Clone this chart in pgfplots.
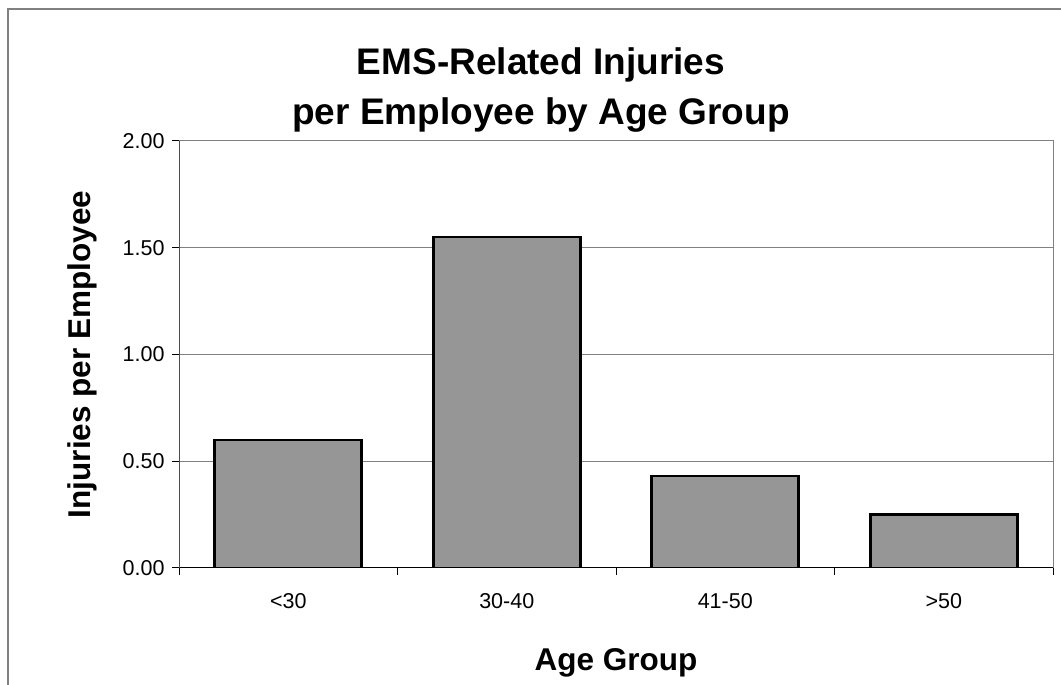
\documentclass[border=0pt]{standalone}
\usepackage{pgfplots}
\pgfplotsset{compat=1.18}
\usepackage{fontspec}
\setmainfont{Liberation Sans}
\definecolor{barfill}{HTML}{969696}
\definecolor{framegray}{HTML}{808080}
\begin{document}
\begin{tikzpicture}[x=1pt,y=1pt]
\useasboundingbox (0,0) rectangle (1061,685);
\draw[framegray, line width=1.5pt] (8,0) -- (8,676) -- (1061,676);
\node[anchor=base, font=\fontsize{37}{42}\selectfont\bfseries] at (541,610) {EMS-Related Injuries};
\node[anchor=base, font=\fontsize{37}{42}\selectfont\bfseries] at (541,560) {per Employee by Age Group};
\begin{axis}[
  at={(179pt,117pt)}, anchor=south west,
  scale only axis, width=874pt, height=427pt,
  ybar, bar width=147pt,
  xmin=0.5, xmax=4.5, ymin=0, ymax=2,
  axis line style={framegray, line width=1pt},
  ymajorgrids, grid style={framegray, line width=1pt},
  tick align=outside, major tick length=7pt,
  xtick pos=bottom, ytick pos=left,
  tick style={black, line width=1pt},
  xtick={0.5,1.5,2.5,3.5,4.5}, xticklabels={},
  extra x ticks={1,2,3,4},
  extra x tick labels={<30,30-40,41-50,>50},
  extra x tick style={major tick length=0pt, grid=none},
  ytick={0,0.5,1,1.5,2},
  yticklabel={\pgfmathprintnumber[fixed, fixed zerofill, precision=2]{\tick}},
  /pgf/number format/assume math mode=true,
  ticklabel style={font=\fontsize{21.5}{24}\selectfont},
  xticklabel style={yshift=-22pt},
  yticklabel style={xshift=-4pt},
  xlabel={Age Group}, ylabel={Injuries per Employee},
  label style={font=\fontsize{31.5}{36}\selectfont\bfseries},
  xlabel style={at={(axis description cs:0.5,-0.2389)}, anchor=base},
  ylabel style={at={(axis description cs:-0.111,0.5)}, anchor=center},
]
\addplot[fill=barfill, draw=black, line width=2.6pt] coordinates {(1,0.60) (2,1.55) (3,0.43) (4,0.25)};
\draw[black, line width=1pt] (rel axis cs:0,0) -- (rel axis cs:1,0);
\draw[black!70, line width=1pt] (rel axis cs:0,0) -- (rel axis cs:0,1);
\end{axis}
\end{tikzpicture}
\end{document}
